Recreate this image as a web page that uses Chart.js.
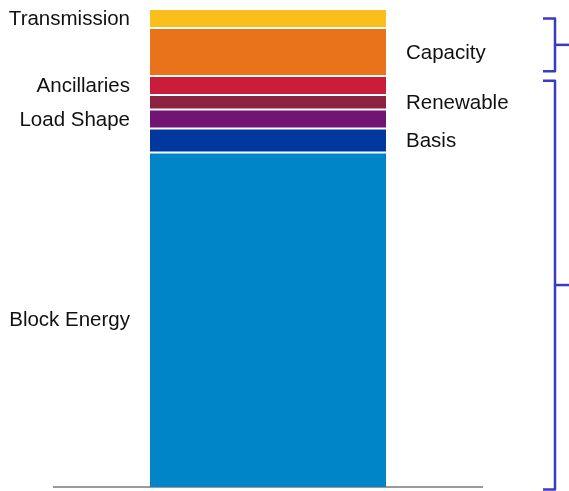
<!DOCTYPE html>
<html>
<head>
<meta charset="utf-8">
<script src="https://cdn.jsdelivr.net/npm/chart.js@4/dist/chart.umd.min.js"></script>
<style>
  html, body { margin: 0; padding: 0; background: #ffffff; }
  canvas { display: block; }
</style>
</head>
<body>
<canvas id="stack" width="569" height="491"></canvas>
<script>
// Cost components of the delivered price, bottom to top (share of total, %)
const components = ['Block Energy', 'Basis', 'Load Shape', 'Renewable', 'Ancillaries', 'Capacity', 'Transmission'];
const shares     = [70, 5, 4, 3, 4, 10, 4];
const colours    = ['#0085c8', '#0038a0', '#721474', '#8c2341', '#c91d3a', '#e8731a', '#fbbf1b'];
const categories = ['Price'];

// Components labelled on the right-hand side of the bar
const rightLabels = ['Capacity', 'Renewable', 'Basis'];

// Brace groups, given as value ranges on the y scale
const braces = [
  { from: 98, to: 87 },
  { from: 85, to: -0.5 }
];

const datasets = components.map((name, i) => ({
  label: name,
  data: [shares[i]],
  backgroundColor: colours[i],
  borderColor: '#ffffff',
  borderWidth: { top: 1, bottom: i === 0 ? 0 : 1, left: 0, right: 0 },
  borderSkipped: false,
  categoryPercentage: 1,
  barPercentage: 236 / 428
}));

const segmentLabels = {
  id: 'segmentLabels',
  afterDatasetsDraw(chart) {
    const ctx = chart.ctx;
    ctx.save();
    ctx.font = '20.5px "Liberation Sans", Arial, sans-serif';
    ctx.fillStyle = '#111111';
    ctx.textBaseline = 'middle';
    chart.data.datasets.forEach((ds, i) => {
      const el = chart.getDatasetMeta(i).data[0];
      const p = el.getProps(['x', 'y', 'base', 'width'], true);
      const cy = (p.y + p.base) / 2 + 1;
      if (rightLabels.includes(ds.label)) {
        ctx.textAlign = 'left';
        ctx.fillText(ds.label, p.x + p.width / 2 + 20, cy);
      } else {
        ctx.textAlign = 'right';
        ctx.fillText(ds.label, p.x - p.width / 2 - 20, cy);
      }
    });
    ctx.restore();
  }
};

const braceMarks = {
  id: 'braceMarks',
  afterDraw(chart) {
    const ctx = chart.ctx;
    const y = chart.scales.y;
    const xv = 555, arm = 12, tick = 14;
    ctx.save();
    ctx.strokeStyle = '#3a3ac2';
    ctx.lineWidth = 2.5;
    ctx.lineJoin = 'round';
    braces.forEach(b => {
      const y1 = y.getPixelForValue(b.from);
      const y2 = y.getPixelForValue(b.to);
      const ym = (y1 + y2) / 2;
      ctx.beginPath();
      ctx.moveTo(xv - arm, y1);
      ctx.lineTo(xv, y1);
      ctx.lineTo(xv, y2);
      ctx.lineTo(xv - arm, y2);
      ctx.stroke();
      ctx.beginPath();
      ctx.moveTo(xv, ym);
      ctx.lineTo(xv + tick, ym);
      ctx.stroke();
    });
    ctx.restore();
  }
};

new Chart(document.getElementById('stack'), {
  type: 'bar',
  data: { labels: categories, datasets },
  options: {
    responsive: false,
    animation: false,
    layout: { padding: { left: 54, right: 87, top: 9, bottom: 4 } },
    plugins: { legend: { display: false }, tooltip: { enabled: false } },
    scales: {
      x: {
        stacked: true,
        grid: { display: false },
        ticks: { display: false },
        border: { display: true, color: '#9a9a9a', width: 2 },
        afterFit(scale) { scale.height = 0; }
      },
      y: { stacked: true, display: false, min: 0, max: 100 }
    }
  },
  plugins: [segmentLabels, braceMarks]
});
</script>
</body>
</html>
